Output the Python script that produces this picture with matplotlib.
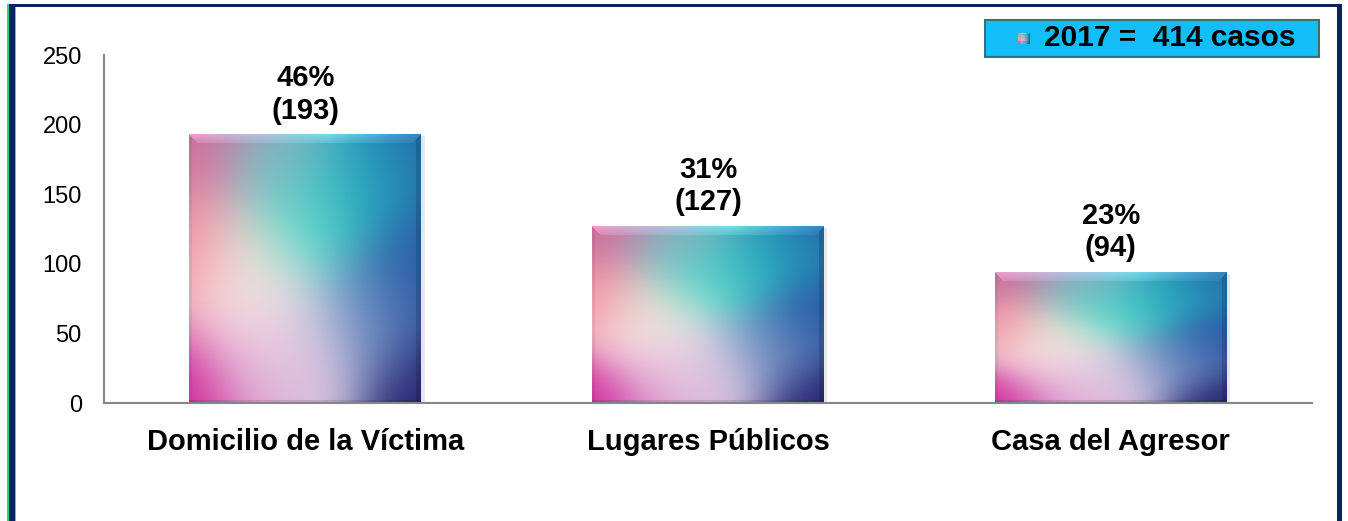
import numpy as np
import matplotlib
matplotlib.use("Agg")
import matplotlib.pyplot as plt
from matplotlib.patches import Rectangle
from matplotlib.colors import to_rgb

categories = ["Domicilio de la Víctima", "Lugares Públicos", "Casa del Agresor"]
values = [193, 127, 94]
percents = ["46%", "31%", "23%"]
legend_text = "2017 =  414 casos"
yticks = [0, 50, 100, 150, 200, 250]

plt.rcParams['font.family'] = ['Liberation Sans', 'DejaVu Sans']

W, H = 1348, 521
fig = plt.figure(figsize=(W / 100, H / 100), dpi=100)
fig.patch.set_facecolor("white")

ax = fig.add_axes([104 / W, 1 - 403 / H, (1312 - 104) / W, (403 - 55) / H])
ax.set_xlim(-0.5, 2.5)
ax.set_ylim(0, 250)

for s in ["top", "right"]:
    ax.spines[s].set_visible(False)
for s in ["left", "bottom"]:
    ax.spines[s].set_color("#868686")
    ax.spines[s].set_linewidth(1.5)
ax.set_yticks(yticks)
ax.set_yticklabels([str(t) for t in yticks], fontsize=17)
ax.tick_params(axis="y", length=0, pad=16)
ax.set_xticks(range(len(categories)))
ax.set_xticklabels(categories, fontsize=21, fontweight="bold")
ax.tick_params(axis="x", length=0, pad=18)

# gradient control points (u: 0..1 left->right, v: 0..1 bottom->top)
ctrl = [
    (0.0, 0.0, "#d02898"),
    (0.0, 0.6, "#f48aa0"),
    (0.0, 1.0, "#d06c9a"),
    (0.25, 0.5, "#f8f2e0"),
    (0.3, 0.3, "#f4d6e2"),
    (0.35, 0.05, "#d8a0d0"),
    (0.5, 0.15, "#e8dcec"),
    (0.5, 0.68, "#48dcc8"),
    (0.38, 0.92, "#88b2c0"),
    (0.75, 0.85, "#22a6c0"),
    (1.0, 1.0, "#2868a8"),
    (1.0, 0.5, "#2858a6"),
    (0.75, 0.3, "#6a8cc2"),
    (1.0, 0.0, "#262470"),
]


def gradient(nx, ny, top_px=9, right_px=5, sigma=0.17):
    u = np.linspace(0, 1, nx)[None, :]
    v = np.linspace(0, 1, ny)[:, None]
    num = np.zeros((ny, nx, 3))
    den = np.zeros((ny, nx))
    for cu, cv, col in ctrl:
        d2 = (u - cu) ** 2 + (v - cv) ** 2
        w = np.exp(-d2 / (2 * sigma ** 2))
        num += w[..., None] * np.array(to_rgb(col))
        den += w
    img = num / den[..., None]
    yy = np.arange(ny)[:, None] * np.ones((1, nx))
    xx = np.ones((ny, 1)) * np.arange(nx)[None, :]
    # top bevel with mitred corners
    dtop = ny - 1 - yy
    top = (dtop < top_px) & (xx >= dtop) & ((nx - 1 - xx) >= dtop)
    c1, c2, c3 = np.array(to_rgb("#f7a8d8")), np.array(to_rgb("#80e2f2")), np.array(to_rgb("#3a88c0"))
    uu = np.linspace(0, 1, nx)
    topcol = np.array([c1 + (c2 - c1) * (t / 0.6) if t < 0.6 else c2 + (c3 - c2) * ((t - 0.6) / 0.4) for t in uu])[None, ...]
    fade = np.clip(1 - dtop / top_px, 0, 1)[..., None] * 0.5 + 0.3
    img = np.where(top[..., None], (1 - fade) * img + fade * topcol, img)
    right = (nx - 1 - xx) < right_px
    img = np.where(right[..., None] & ~top[..., None], img * 0.85, img)
    left = xx < 3
    img = np.where(left[..., None] & ~top[..., None], img * 0.95, img)
    bottom = yy < 3
    img = np.where(bottom[..., None], img * 0.88, img)
    return np.clip(img, 0, 1)


width = 0.576
bars = ax.bar(range(len(categories)), values, width=width, color="none", edgecolor="none", zorder=2)
fig.canvas.draw()
for b, val, pct in zip(bars, values, percents):
    x0, y0 = b.get_x(), b.get_y()
    w, h = b.get_width(), b.get_height()
    p0 = ax.transData.transform((x0, y0))
    p1 = ax.transData.transform((x0 + w, y0 + h))
    nx, ny = int(abs(p1[0] - p0[0])), int(abs(p1[1] - p0[1]))
    img = gradient(nx, ny)
    ax.add_patch(Rectangle((x0 + 0.008, y0 - 1.5), w, h, facecolor="#b0b0b0", alpha=0.3,
                           edgecolor="none", zorder=1.5))
    im = ax.imshow(img, extent=(x0, x0 + w, y0, y0 + h), origin="lower", aspect="auto",
                   zorder=2, interpolation="bilinear")
    im.set_clip_path(b)
    ax.annotate(f"{pct}\n({val})", (x0 + w / 2, y0 + h), xytext=(0, 7), textcoords="offset points",
                ha="center", va="bottom", fontsize=21, fontweight="bold", linespacing=1.2)

ax.set_xlim(-0.5, 2.5)
ax.set_ylim(0, 250)

# legend box
fig.patches.append(Rectangle((985 / W, 1 - 57 / H), (1319 - 985) / W, 37 / H, transform=fig.transFigure,
                             facecolor="#12bdf8", edgecolor="#3c6e78", linewidth=1.5, zorder=5))
lax = fig.add_axes([1018 / W, 1 - 44.5 / H, 12 / W, 12 / H], zorder=6)
lax.imshow(gradient(12, 12, top_px=2, right_px=2, sigma=0.3), origin="lower", aspect="auto")
lax.axis("off")
fig.text(1044 / W, 1 - 38.5 / H, legend_text, fontsize=21.5, fontweight="bold", ha="left", va="center", zorder=7)

# frame border
fig.patches.append(Rectangle((7 / W, 0), 1.5 / W, 1 - 4 / H, transform=fig.transFigure,
                             facecolor="#2ecf90", edgecolor="none", zorder=8))
fig.patches.append(Rectangle((8.5 / W, 0), 6 / W, 1 - 4 / H, transform=fig.transFigure,
                             facecolor="#0b2260", edgecolor="none", zorder=8))
fig.patches.append(Rectangle((14.5 / W, 0), 1 / W, 1 - 7 / H, transform=fig.transFigure,
                             facecolor="#8fa6c8", edgecolor="none", zorder=8))
fig.patches.append(Rectangle((8.5 / W, 1 - 7 / H), (1342 - 8.5) / W, 3 / H, transform=fig.transFigure,
                             facecolor="#0b2260", edgecolor="none", zorder=8))
fig.patches.append(Rectangle((1337 / W, 0), 5 / W, 1 - 4 / H, transform=fig.transFigure,
                             facecolor="#0b2260", edgecolor="none", zorder=8))

fig.savefig("out.png", dpi=100)
